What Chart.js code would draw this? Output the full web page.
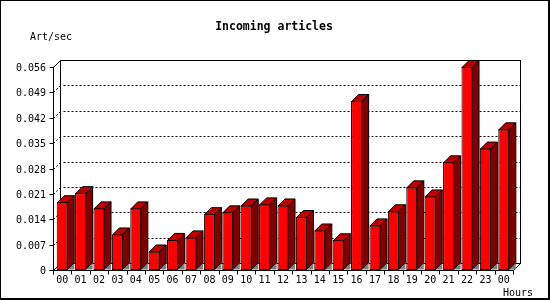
<!DOCTYPE html>
<html>
<head>
<meta charset="utf-8">
<title>Incoming articles</title>
<script src="https://cdn.jsdelivr.net/npm/chart.js@4"></script>
<style>
  html, body { margin: 0; padding: 0; background: #fff; }
  canvas { display: block; }
</style>
</head>
<body>
<canvas id="grafico" width="550" height="300"></canvas>
<script>
// dados (artigos por segundo, por hora)
const horas = ['00', '01', '02', '03', '04', '05', '06', '07', '08', '09', '10', '11',
               '12', '13', '14', '15', '16', '17', '18', '19', '20', '21', '22', '23', '00'];
const artigosPorSeg = [0.0187, 0.0212, 0.0170, 0.0098, 0.0170, 0.0051, 0.0083, 0.0090,
                       0.0154, 0.0159, 0.0178, 0.0181, 0.0178, 0.0146, 0.0109, 0.0082,
                       0.0466, 0.0123, 0.0162, 0.0228, 0.0203, 0.0297, 0.0560, 0.0335, 0.0388];
const ticksY = [0, 0.007, 0.014, 0.021, 0.028, 0.035, 0.042, 0.049, 0.056];
const titulo = 'Incoming articles';
const rotuloY = 'Art/sec';
const rotuloX = 'Hours';

const PROF = 7; // profundidade do efeito 3D
const FONTE = '"DejaVu Sans Mono", monospace';
const px = v => Math.round(v) + 0.5;

function formatarTick(v) {
    return v === 0 ? '0' : v.toFixed(3);
}

function linha(ctx, x1, y1, x2, y2) {
    ctx.beginPath();
    ctx.moveTo(x1, y1);
    ctx.lineTo(x2, y2);
    ctx.stroke();
}

function poligono(ctx, pts, cor) {
    ctx.beginPath();
    ctx.moveTo(pts[0][0], pts[0][1]);
    pts.slice(1).forEach(p => ctx.lineTo(p[0], p[1]));
    ctx.closePath();
    if (cor) {
        ctx.fillStyle = cor;
        ctx.fill();
    }
    ctx.stroke();
}

// parede do fundo, grade pontilhada e moldura
const fundo3d = {
    id: 'fundo3d',
    beforeDatasetsDraw(chart) {
        const { ctx, chartArea: a, scales: { y } } = chart;
        const L = px(a.left), R = px(a.right), T = px(a.top), B = px(a.bottom);
        ctx.save();
        ctx.fillStyle = '#fff';
        ctx.fillRect(0, 0, chart.width, chart.height);
        ctx.strokeStyle = '#000';
        ctx.lineWidth = 1;
        ctx.strokeRect(0.5, 0.5, chart.width - 1, chart.height - 1);
        linha(ctx, chart.width - 1.5, 0, chart.width - 1.5, chart.height);
        linha(ctx, 0, chart.height - 1.5, chart.width, chart.height - 1.5);

        // parede do fundo
        ctx.strokeRect(L + PROF, T - PROF, R - L, B - T);
        linha(ctx, L, T, L + PROF, T - PROF);
        linha(ctx, L, B, L + PROF, B - PROF);
        linha(ctx, R, B, R + PROF, B - PROF);

        // grade
        ctx.setLineDash([2, 2]);
        ticksY.slice(1, -1).forEach(v => {
            const py = px(y.getPixelForValue(v));
            linha(ctx, L + PROF + 3, py - PROF, R + PROF, py - PROF);
            linha(ctx, L, py, L + PROF, py - PROF);
        });
        ctx.restore();
    },
    afterDatasetsDraw(chart) {
        const { ctx } = chart;
        const meta = chart.getDatasetMeta(0);
        ctx.save();
        ctx.strokeStyle = '#000';
        ctx.lineWidth = 1;
        meta.data.forEach(bar => {
            const X1 = bar.x - bar.width / 2 + 0.5;
            const X2 = bar.x + bar.width / 2 - 0.5;
            const T = bar.y + 0.5;
            const B = bar.base - 0.5;
            const D = PROF;
            // sombra no chão
            ctx.fillStyle = '#808080';
            ctx.beginPath();
            ctx.moveTo(X2, B);
            ctx.lineTo(X2 + D, B - D);
            ctx.lineTo(X2 + D, B);
            ctx.closePath();
            ctx.fill();
            // topo e lateral
            poligono(ctx, [[X1, T], [X1 + D, T - D], [X2 + D, T - D], [X2, T]], '#c00000');
            poligono(ctx, [[X2, T], [X2 + D, T - D], [X2 + D, B - D], [X2, B]], '#800000');
        });
        ctx.restore();
    },
    afterDraw(chart) {
        const { ctx, chartArea: a, scales: { x, y } } = chart;
        const L = px(a.left), R = px(a.right), T = px(a.top), B = px(a.bottom);
        ctx.save();
        ctx.strokeStyle = '#000';
        ctx.fillStyle = '#000';
        ctx.lineWidth = 1;

        // eixos
        linha(ctx, L, T - 1, L, B + 4);
        linha(ctx, L - 4, B, R, B);

        // eixo Y
        ctx.font = '10px ' + FONTE;
        ctx.textAlign = 'right';
        ctx.textBaseline = 'middle';
        ticksY.forEach(v => {
            const py = px(y.getPixelForValue(v));
            linha(ctx, L - 4, py, L, py);
            ctx.fillText(formatarTick(v), a.left - 7, py + 1);
        });

        // eixo X
        const larg = (a.right - a.left) / horas.length;
        ctx.textAlign = 'center';
        for (let k = 0; k <= horas.length; k++) {
            const xx = px(a.left + k * larg);
            linha(ctx, xx, B, xx, B + 4);
        }
        horas.forEach((h, i) => {
            ctx.fillText(h, x.getPixelForValue(i), B + 10);
        });

        // textos
        ctx.textAlign = 'right';
        ctx.fillText(rotuloX, 533, 293);
        ctx.textAlign = 'left';
        ctx.fillText(rotuloY, 30, 37);
        ctx.textAlign = 'center';
        ctx.font = 'bold 11.5px ' + FONTE;
        ctx.fillText(titulo, 274, 27);
        ctx.restore();
    }
};

new Chart(document.getElementById('grafico'), {
    type: 'bar',
    data: {
        labels: horas,
        datasets: [{
            label: rotuloY,
            data: artigosPorSeg,
            backgroundColor: '#ff0000',
            borderColor: '#000',
            borderWidth: 1,
            borderSkipped: false,
            inflateAmount: 0,
            barPercentage: 0.6,
            categoryPercentage: 1
        }]
    },
    options: {
        responsive: false,
        animation: false,
        devicePixelRatio: 1,
        layout: { padding: { left: 53, right: 37, top: 67, bottom: 30 } },
        plugins: { legend: { display: false }, tooltip: { enabled: false } },
        scales: {
            x: { display: false },
            y: { display: false, min: 0, max: 0.056 }
        }
    },
    plugins: [fundo3d]
});
</script>
</body>
</html>
